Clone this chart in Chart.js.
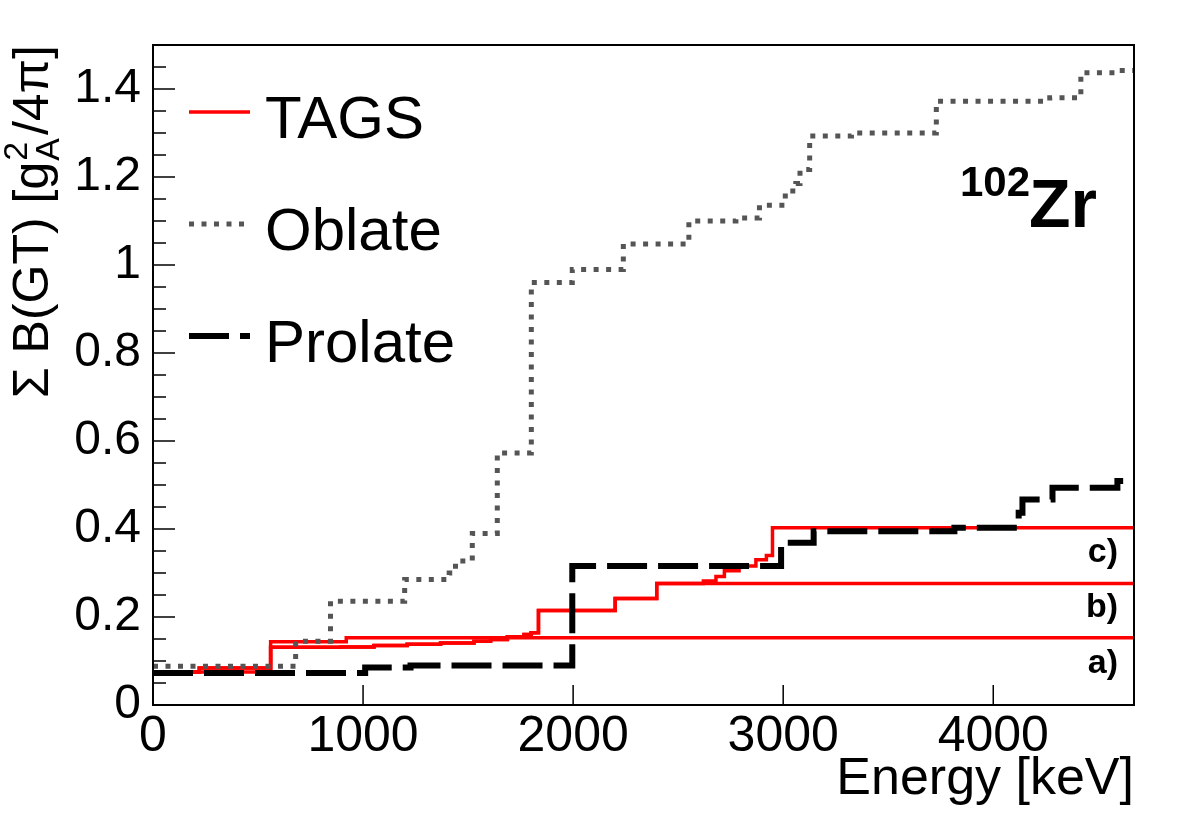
<!DOCTYPE html>
<html>
<head>
<meta charset="utf-8">
<script src="https://cdn.jsdelivr.net/npm/chart.js@4.4.1/dist/chart.umd.min.js"></script>
<style>
html, body { margin: 0; padding: 0; background: #fff; }
</style>
</head>
<body>
<canvas id="chart" width="1182" height="819"></canvas>
<script>
var FONT = "'Liberation Sans', Arial, Helvetica, sans-serif";
var xMax = 4670;

// cumulative B(GT), step histograms: value holds from energy[i] to energy[i+1]
var tagsAEnergy = [0, 560, 920, xMax];
var tagsAValue  = [0.075, 0.144, 0.153, 0.153];

var tagsBEnergy = [0, 220, 560, 893, 1052, 1210, 1369, 1528, 1607, 1687, 1766, 1800, 1835, 2200, 2398, xMax];
var tagsBValue  = [0.075, 0.084, 0.131, 0.132, 0.135, 0.138, 0.141, 0.145, 0.149, 0.155, 0.160, 0.164, 0.215, 0.242, 0.276, 0.276];

var tagsCEnergy = [0, 220, 560, 893, 1052, 1210, 1369, 1528, 1607, 1687, 1766, 1800, 1835, 2200, 2398, 2620, 2680, 2720, 2790, 2870, 2920, 2949, xMax];
var tagsCValue  = [0.075, 0.084, 0.131, 0.132, 0.135, 0.138, 0.141, 0.145, 0.149, 0.155, 0.160, 0.164, 0.215, 0.242, 0.276, 0.282, 0.292, 0.305, 0.316, 0.330, 0.340, 0.403, 0.403];

var oblateEnergy = [0, 679, 845, 1198, 1410, 1440, 1520, 1639, 1801, 1996, 2239, 2551, 2775, 2887, 3010, 3060, 3080, 3126, 3325, 3729, 4269, 4417, 4578, xMax];
var oblateValue  = [0.088, 0.145, 0.236, 0.285, 0.300, 0.327, 0.390, 0.573, 0.960, 0.990, 1.048, 1.100, 1.107, 1.136, 1.168, 1.185, 1.217, 1.293, 1.300, 1.372, 1.380, 1.437, 1.442, 1.442];

var prolateEnergy = [0, 1010, 1226, 1996, 2990, 3145, 3815, 4121, 4139, 4282, 4591, xMax];
var prolateValue  = [0.073, 0.085, 0.090, 0.316, 0.369, 0.395, 0.403, 0.437, 0.467, 0.494, 0.509, 0.509];

var xTicks = [0, 1000, 2000, 3000, 4000];
var yTicks = [0, 0.2, 0.4, 0.6, 0.8, 1, 1.2, 1.4];
var curveLabels = ['a)', 'b)', 'c)'];

function steps(xs, ys) {
  return xs.map(function (x, i) { return { x: x, y: ys[i] }; });
}

function lineSet(label, xs, ys, color, width, dash, order) {
  return {
    label: label,
    data: steps(xs, ys),
    borderColor: color,
    borderWidth: width,
    borderDash: dash,
    stepped: true,
    pointRadius: 0,
    fill: false,
    order: order
  };
}

var decor = {
  id: 'decor',
  afterDraw: function (chart) {
    var ctx = chart.ctx;
    var a = chart.chartArea;
    var xs = chart.scales.x, ys = chart.scales.y;
    ctx.save();

    // frame
    ctx.strokeStyle = '#000';
    ctx.lineWidth = 2;
    ctx.strokeRect(a.left, a.top, a.right - a.left, a.bottom - a.top);

    // y ticks (major + minor), pointing inside
    ctx.lineWidth = 1.5;
    for (var i = 0; i <= 30; i++) {
      var py = ys.getPixelForValue(i * 0.05);
      var len = (i % 4 === 0) ? 22 : 13;
      ctx.beginPath();
      ctx.moveTo(a.left, py);
      ctx.lineTo(a.left + len, py);
      ctx.stroke();
    }
    // x ticks
    xs.ticks.forEach(function (t) {
      var px = xs.getPixelForValue(t.value);
      ctx.beginPath();
      ctx.moveTo(px, a.bottom);
      ctx.lineTo(px, a.bottom - 20);
      ctx.stroke();
    });

    // legend
    var ds = chart.data.datasets;
    var entries = [
      { text: 'TAGS', set: ds[4], y: 112 },
      { text: 'Oblate', set: ds[1], y: 224 },
      { text: 'Prolate', set: ds[0], y: 336 }
    ];
    entries.forEach(function (e) {
      ctx.save();
      ctx.strokeStyle = e.set.borderColor;
      ctx.lineWidth = e.set.borderWidth;
      ctx.setLineDash(e.set.borderDash || []);
      ctx.beginPath();
      ctx.moveTo(189, e.y);
      ctx.lineTo(250, e.y);
      ctx.stroke();
      ctx.restore();
      ctx.fillStyle = '#000';
      ctx.font = '60px ' + FONT;
      ctx.textAlign = 'left';
      ctx.textBaseline = 'alphabetic';
      ctx.fillText(e.text, 265, e.y + 26);
    });

    // nucleus label
    ctx.fillStyle = '#000';
    ctx.textBaseline = 'alphabetic';
    ctx.font = 'bold 42px ' + FONT;
    ctx.textAlign = 'right';
    ctx.fillText('102', 1030, 196);
    ctx.font = 'bold 68px ' + FONT;
    ctx.textAlign = 'left';
    ctx.fillText('Zr', 1029, 227);

    // curve labels a) b) c)
    ctx.font = 'bold 34px ' + FONT;
    ctx.textAlign = 'right';
    var labelBase = [673, 617, 562];
    curveLabels.forEach(function (s, k) {
      ctx.fillText(s, 1118, labelBase[k]);
    });

    // y title with sub/superscript
    ctx.save();
    ctx.translate(48, 45);
    ctx.rotate(-Math.PI / 2);
    var big = 50, small = 34;
    ctx.font = big + 'px ' + FONT;
    var p1 = '\u03A3 B(GT) [g', p3 = '/4\u03C0]';
    var w1 = ctx.measureText(p1).width, w3 = ctx.measureText(p3).width;
    ctx.font = small + 'px ' + FONT;
    var w2 = Math.max(ctx.measureText('2').width, ctx.measureText('A').width);
    var u = -(w1 + w2 + 4 + w3);
    ctx.textAlign = 'left';
    ctx.font = big + 'px ' + FONT;
    ctx.fillText(p1, u, 0);
    u += w1 + 1;
    ctx.font = small + 'px ' + FONT;
    ctx.fillText('2', u, -21);
    ctx.fillText('A', u, 11);
    u += w2 + 3;
    ctx.font = big + 'px ' + FONT;
    ctx.fillText(p3, u, 0);
    ctx.restore();

    ctx.restore();
  }
};

var ctx = document.getElementById('chart');

var chart = new Chart(ctx, {
  type: 'line',
  data: {
    datasets: [
      lineSet('Prolate', prolateEnergy, prolateValue, '#000000', 6, [40, 11], 0),
      lineSet('Oblate', oblateEnergy, oblateValue, '#555555', 5, [5, 7.5], 1),
      lineSet('TAGS a', tagsAEnergy, tagsAValue, '#ff0000', 3.5, [], 2),
      lineSet('TAGS b', tagsBEnergy, tagsBValue, '#ff0000', 3.5, [], 2),
      lineSet('TAGS c', tagsCEnergy, tagsCValue, '#ff0000', 3.5, [], 2)
    ]
  },
  options: {
    responsive: false,
    animation: false,
    devicePixelRatio: 1,
    layout: { padding: { left: 0, top: 45, right: 48, bottom: 0 } },
    plugins: {
      legend: { display: false },
      tooltip: { enabled: false }
    },
    scales: {
      x: {
        type: 'linear',
        min: 0,
        max: xMax,
        afterBuildTicks: function (s) { s.ticks = xTicks.map(function (v) { return { value: v }; }); },
        ticks: {
          color: '#000',
          font: { family: FONT, size: 50 },
          padding: 2,
          maxRotation: 0,
          autoSkip: false,
          callback: function (v) { return String(v); }
        },
        grid: { display: false, drawTicks: false },
        border: { display: false },
        title: {
          display: true,
          text: 'Energy [keV]',
          align: 'end',
          color: '#000',
          font: { family: FONT, size: 52 },
          padding: { top: 0, bottom: 8 }
        },
        afterFit: function (s) { s.height = 114; }
      },
      y: {
        min: 0,
        max: 1.5,
        afterBuildTicks: function (s) { s.ticks = yTicks.map(function (v) { return { value: v }; }); },
        ticks: {
          color: '#000',
          font: { family: FONT, size: 48 },
          padding: 12,
          callback: function (v) { return String(Math.round(v * 10) / 10); }
        },
        grid: { display: false, drawTicks: false },
        border: { display: false },
        afterFit: function (s) { s.width = 153; }
      }
    }
  },
  plugins: [decor]
});
</script>
</body>
</html>
